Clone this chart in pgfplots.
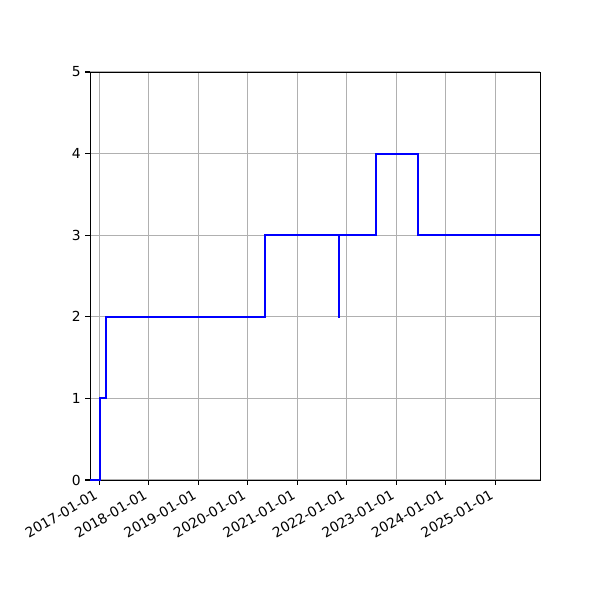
\documentclass[border=0pt]{standalone}
\usepackage{fontspec}
\setmainfont{DejaVu Sans}
\usepackage{pgfplots}
\pgfplotsset{compat=1.18}
\begin{document}
\fontsize{10}{12}\selectfont
\begin{tikzpicture}
\useasboundingbox (-64.8bp,-86.4bp) rectangle (367.2bp,345.6bp);
\begin{axis}[
  scale only axis,
  width=324bp, height=293.76bp,
  at={(0,0)}, anchor=south west,
  xmin=-70, xmax=3252,
  ymin=0, ymax=5,
  xtick={0,365,730,1095,1461,1826,2191,2556,2922},
  xticklabels={2017-01-01,2018-01-01,2019-01-01,2020-01-01,2021-01-01,2022-01-01,2023-01-01,2024-01-01,2025-01-01},
  ytick={0,1,2,3,4,5},
  x tick label style={xshift=-4bp, yshift=-1.5bp, rotate=30, anchor=north east, inner sep=1pt},
  y tick label style={inner sep=1pt, xshift=-2pt},
  /pgf/number format/assume math mode=true,
  tick align=outside,
  tick pos=left,
  major tick length=3.5bp,
  tick style={black, line width=0.8bp},
  axis line style={black, line width=0.7bp},
  grid=major,
  grid style={color=black!31, line width=0.8bp},
  every tick label/.append style={font=\fontsize{10}{12}\selectfont},
  clip=false,
]
\addplot[const plot, blue, line width=1.5bp] coordinates {
(-70,0) (5,1) (49,2) (1221,3) (1765,2) (1766,3) (2040,4) (2350,3) (3252,3)
};
\end{axis}
\end{tikzpicture}
\end{document}
